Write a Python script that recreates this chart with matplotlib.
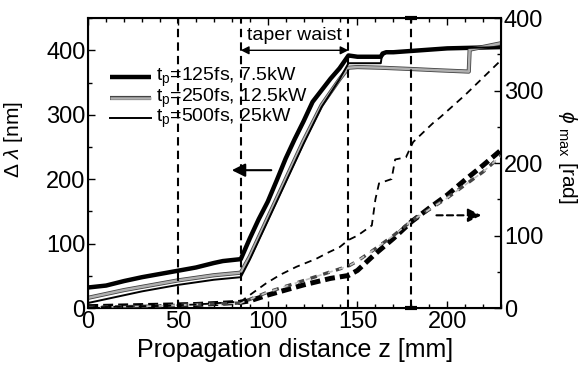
"""Spectral broadening / peak nonlinear phase along the tapered fibre."""
import numpy as np
import matplotlib
matplotlib.use("Agg")
import matplotlib.pyplot as plt
from matplotlib.ticker import MultipleLocator

# ---- data -----------------------------------------------------------------
# spectral width (left axis, nm)
z_125 = [0, 10, 20, 30, 40, 50, 60, 70, 75, 85, 90, 95, 100, 105, 110, 115,
         120, 125, 130, 135, 140, 145, 150, 163, 164, 166, 170, 180, 190, 200,
         215, 230]
dl_125 = [32, 35, 42, 48, 53, 58, 63, 70, 73, 76, 108, 138, 165, 198, 232, 262,
          290, 320, 338, 356, 372, 392, 390, 390, 395, 397, 397, 399, 401, 403,
          404, 405]

z_250 = [0, 10, 20, 30, 40, 50, 60, 70, 85, 90, 100, 110, 120, 130, 140, 145,
         150, 163, 180, 195, 212, 212.5, 230]
dl_250 = [16, 22, 28, 33, 38, 43, 47, 51, 55, 80, 140, 200, 260, 315, 355, 373,
          374, 373, 371, 369, 367, 401, 411]

z_500 = [0, 10, 20, 30, 40, 50, 60, 70, 85, 90, 100, 110, 120, 130, 140, 145,
         163, 163.5, 166, 170, 180, 190, 200, 215, 230]
dl_500 = [8, 14, 20, 26, 31, 36, 40, 44, 48, 75, 135, 195, 255, 312, 355, 380,
          380, 390, 397, 397, 399, 401, 403, 404, 405]

# peak nonlinear phase (right axis, rad)
zp_125 = [0, 20, 40, 60, 85, 90, 100, 110, 120, 135, 145, 150, 160, 170, 180,
          190, 200, 210, 220, 230]
ph_125 = [2, 3, 4, 5, 8, 10, 18, 25, 32, 41, 45, 52, 75, 96, 119, 138, 156,
          177, 197, 218]

zp_250 = [0, 20, 40, 60, 85, 90, 100, 110, 120, 135, 145, 150, 160, 170, 180,
          190, 200, 210, 220, 230]
ph_250 = [1, 2, 3, 5, 7, 12, 22, 30, 38, 50, 58, 65, 82, 100, 120, 136, 152,
          170, 188, 210]

zp_500 = [0, 20, 40, 60, 85, 90, 99, 107, 116, 127, 134, 140, 145, 150, 158,
          160, 162, 169, 171, 177, 181, 192, 196, 210, 220, 230]
ph_500 = [1, 2, 3, 5, 9, 18, 34, 46, 57, 68, 77, 84, 94, 100, 114, 150, 172,
          178, 205, 208, 229, 255, 263, 294, 318, 342]

waist_lines = [50, 85, 145, 180]

plt.rcParams.update({
    "font.family": "sans-serif",
    "font.sans-serif": ["Liberation Sans", "DejaVu Sans"],
    "font.size": 14,
    "mathtext.fontset": "custom",
    "mathtext.rm": "Liberation Sans",
    "mathtext.it": "Liberation Sans:italic",
    "xtick.direction": "in",
    "ytick.direction": "in",
})

fig = plt.figure(figsize=(5.84, 3.69), dpi=100)
ax = fig.add_axes([0.151, 0.165, 0.707, 0.786])
ax2 = ax.twinx()

# solid: spectral width
ax.plot(z_125, dl_125, color="black", lw=3.2, solid_capstyle="butt")
ax.plot(z_250, dl_250, color="#444444", lw=3.0, solid_capstyle="butt")
ax.plot(z_250, dl_250, color="#b0b0b0", lw=1.8, solid_capstyle="butt")
ax.plot(z_500, dl_500, color="black", lw=1.4)

# legend samples
lx = [12, 35]
ly = [358, 326, 295]
ax.plot(lx, [ly[0]] * 2, color="black", lw=3.2, solid_capstyle="butt")
ax.plot(lx, [ly[1]] * 2, color="#444444", lw=3.0, solid_capstyle="butt")
ax.plot(lx, [ly[1]] * 2, color="#b0b0b0", lw=1.8, solid_capstyle="butt")
ax.plot(lx, [ly[2]] * 2, color="black", lw=1.4)
labels = ["t$_\\mathrm{p}$=125fs, 7.5kW", "t$_\\mathrm{p}$=250fs, 12.5kW",
          "t$_\\mathrm{p}$=500fs, 25kW"]
for y, s in zip(ly, labels):
    ax.text(38, y, s, fontsize=14, va="center", ha="left")

# dashed: peak phase
ax2.plot(zp_125, ph_125, color="black", lw=3.6, dashes=(2, 1))
ax2.plot(zp_250, ph_250, color="#444444", lw=2.4, dashes=(2, 2))
ax2.plot(zp_250, ph_250, color="#c0c0c0", lw=1.2, dashes=(3, 4))
ax2.plot(zp_500, ph_500, color="black", lw=1.3, dashes=(4, 3))

for zl in waist_lines:
    ax.axvline(zl, color="black", lw=1.5, dashes=(4, 2.5))
# short marks where the last line meets the frame
ax.plot([180, 180], [450, 0], ls="none", marker="_", ms=9, mew=3,
        color="black", clip_on=False)

# annotations
ax.annotate("", xy=(145, 400), xytext=(85, 400),
            arrowprops=dict(arrowstyle="<|-|>", color="black", lw=1.0,
                            mutation_scale=12, shrinkA=0, shrinkB=0))
ax.text(115, 423, "taper waist", ha="center", va="center", fontsize=14)
ax.annotate("", xy=(80, 214), xytext=(102, 214),
            arrowprops=dict(arrowstyle="-|>", color="black", lw=1.5,
                            mutation_scale=20, shrinkA=0, shrinkB=0))
ax2.annotate("", xy=(219, 128), xytext=(194, 128),
             arrowprops=dict(arrowstyle="-|>", color="black", lw=1.5,
                             linestyle=(0, (3, 2)), mutation_scale=20,
                             shrinkA=0, shrinkB=0))

ax.set_xlim(0, 230)
ax.set_ylim(0, 450)
ax2.set_ylim(0, 400)
ax.xaxis.set_major_locator(MultipleLocator(50))
ax.xaxis.set_minor_locator(MultipleLocator(10))
ax.yaxis.set_major_locator(MultipleLocator(100))
ax.yaxis.set_minor_locator(MultipleLocator(50))
ax2.yaxis.set_major_locator(MultipleLocator(100))
ax2.yaxis.set_minor_locator(MultipleLocator(50))
ax.tick_params(axis="x", which="both", top=True, labelsize=17, pad=2)
ax.tick_params(axis="y", which="both", right=False, labelsize=17, pad=2)
ax2.tick_params(axis="y", which="both", labelsize=17, pad=2)
ax.tick_params(which="major", length=5, width=1)
ax.tick_params(which="minor", length=3, width=1)
ax2.tick_params(which="major", length=5, width=1)
ax2.tick_params(which="minor", length=3, width=1)
for sp in ax.spines.values():
    sp.set_linewidth(1.5)

ax.set_xlabel("Propagation distance z [mm]", fontsize=18, labelpad=4)
ax.set_ylabel("Δ $\\lambda$ [nm]", fontsize=15)
ax.yaxis.set_label_coords(-0.153, 0.58)
ax2.set_ylabel("$\\phi$ $_\\mathrm{max}$ [rad]", fontsize=15, rotation=270,
               va="center")
ax2.yaxis.set_label_coords(1.16, 0.52)

fig.savefig("out.png", dpi=100)
